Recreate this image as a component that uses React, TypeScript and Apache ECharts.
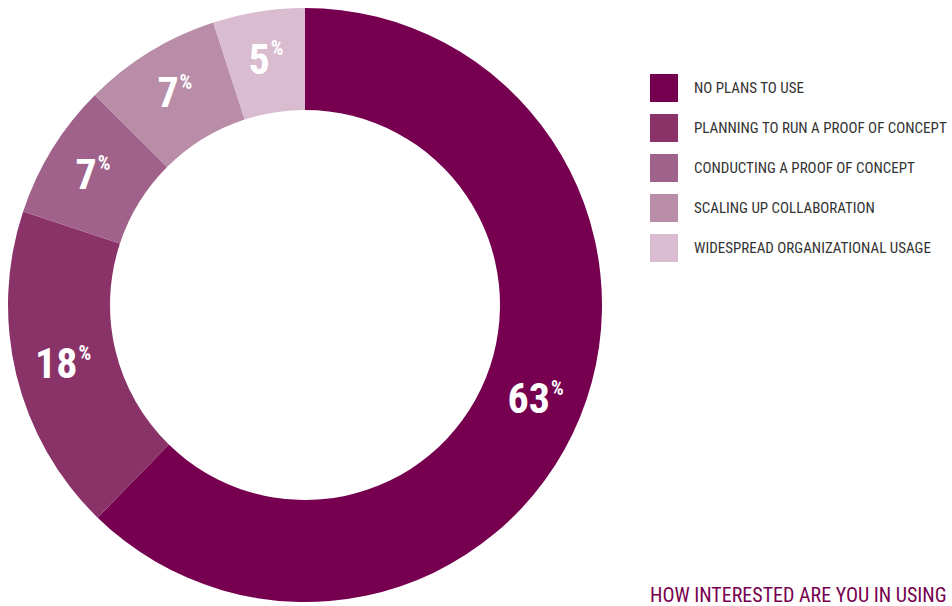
import React, { useEffect, useRef } from "react";
import * as echarts from "echarts";

const categories = [
  "NO PLANS TO USE",
  "PLANNING TO RUN A PROOF OF CONCEPT",
  "CONDUCTING A PROOF OF CONCEPT",
  "SCALING UP COLLABORATION",
  "WIDESPREAD ORGANIZATIONAL USAGE",
];
// slice shares as measured from the ring's angles
const values = [62.3, 17.8, 7.4, 7.5, 5.0];
// percentages as printed on the slices
const labels = ["63", "18", "7", "7", "5"];
const colors = ["#76004F", "#8A3369", "#A0628A", "#B98CA8", "#D9BCD0"];
const titleText = "HOW INTERESTED ARE YOU IN USING";

const FONT = "'Liberation Sans Narrow', 'Roboto Condensed', 'Arial Narrow', Roboto, sans-serif";

export default function App() {
  const ref = useRef<HTMLDivElement>(null);
  useEffect(() => {
    document.body.style.margin = "0";
    if (!ref.current) return;
    const chart = echarts.init(ref.current, null, { renderer: "svg" });
    chart.setOption({
      animation: false,
      backgroundColor: "#ffffff",
      color: colors,
      legend: {
        orient: "vertical",
        left: 650,
        top: 74,
        padding: 0,
        itemWidth: 28,
        itemHeight: 28,
        itemGap: 12,
        icon: "rect",
        selectedMode: false,
        data: categories,
        textStyle: {
          fontFamily: FONT,
          fontSize: 15,
          color: "#333333",
          padding: [0, 0, 0, 11],
        },
      },
      graphic: [
        {
          type: "text",
          left: 650,
          top: 585,
          style: {
            text: titleText,
            fontFamily: FONT,
            fontSize: 20,
            fill: "#76004F",
          },
        },
      ],
      series: [
        {
          type: "pie",
          center: [305, 305],
          radius: [195, 297],
          startAngle: 90,
          clockwise: true,
          emphasis: { disabled: true },
          itemStyle: { borderWidth: 0 },
          label: {
            show: true,
            position: "inside",
            formatter: (p: any) => `{n|${labels[p.dataIndex]}}{p|%}`,
            rich: {
              n: {
                fontFamily: FONT,
                fontWeight: "bold",
                fontSize: 42,
                color: "#ffffff",
              },
              p: {
                fontFamily: FONT,
                fontWeight: "bold",
                fontSize: 20,
                color: "#ffffff",
                verticalAlign: "top",
                padding: [0, 0, 16, 1],
              },
            },
          },
          labelLine: { show: false },
          data: categories.map((name, i) => ({ name, value: values[i] })),
        },
      ],
    });
    return () => chart.dispose();
  }, []);
  return <div ref={ref} style={{ width: 952, height: 606 }} />;
}
